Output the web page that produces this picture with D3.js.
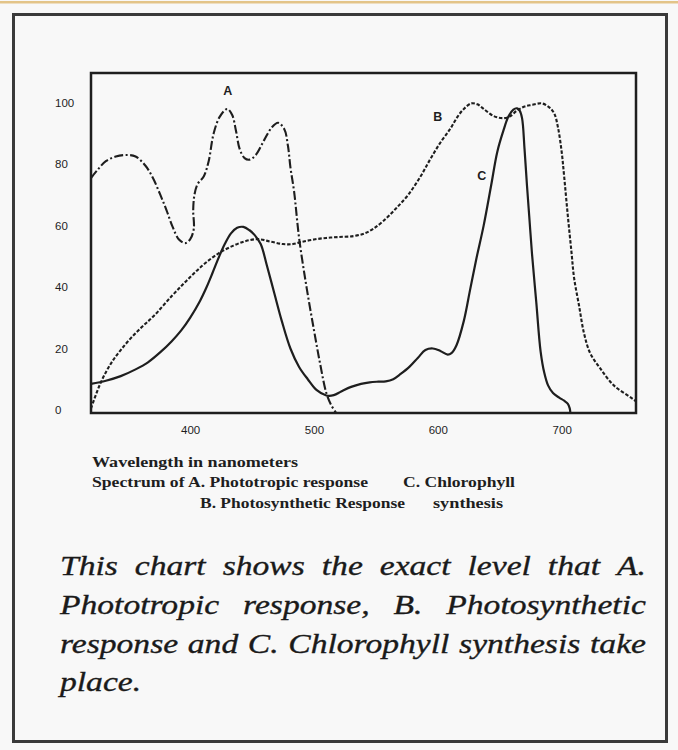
<!DOCTYPE html>
<html>
<head>
<meta charset="utf-8">
<script src="https://cdn.jsdelivr.net/npm/d3@7"></script>
<style>
  html, body { margin: 0; padding: 0; background: #f8f8f8; }
  svg { display: block; }
</style>
</head>
<body>
<script>
// ---- Data ----
const wavelengthA = [320, 325, 332, 340, 348, 356, 364, 370, 376, 381, 386, 391, 396, 400, 403, 402.5, 403.5, 406, 411, 415, 419, 424, 430, 434, 437, 440, 444, 448, 453, 460, 466, 471, 476, 479, 481, 484, 488, 494, 500, 505, 510, 514, 518];
const responseA   = [76.5, 79, 82, 83.5, 84, 83.5, 80.5, 76.5, 71, 66, 60.5, 56.5, 55.3, 56.5, 60, 66, 71, 74.5, 77, 82, 91, 96.5, 99, 97, 92, 86, 83, 82.5, 84, 89, 93, 94.5, 92.5, 87, 80, 72, 57, 41, 27, 16, 6.5, 2.5, 0];

const wavelengthB = [320, 324, 328, 333, 338, 344, 352, 361, 370, 385, 397, 410, 423, 435, 445, 455, 465, 475, 483, 490, 500, 510, 520, 532, 541, 548, 556, 566, 576, 586, 594, 602, 610, 616, 621, 627, 632, 637, 645, 652, 658, 664, 670, 676, 684, 690, 694, 697, 700, 702, 705, 708, 710, 714, 718, 723, 731, 742, 756, 760];
const responseB   = [1.5, 6, 10, 14, 17.3, 20.5, 24.3, 28, 31.3, 38, 43, 48, 52, 54.5, 56, 56.6, 55.8, 55, 55, 55.7, 56.5, 57, 57.3, 57.6, 58.5, 60, 62.5, 66.5, 71, 77, 82.7, 88, 92.5, 96.5, 99, 100.8, 100.5, 99, 96.7, 96, 96.5, 98.5, 99.8, 100.3, 100.8, 99.5, 97.5, 93, 85, 77, 64, 52, 44, 35, 26, 19.5, 14.6, 9, 5, 3.8];

const wavelengthC = [320, 332, 344, 356, 366, 376, 385, 393, 400, 408, 413, 418, 423, 428, 433, 438, 443, 448, 452, 457, 462, 468, 474, 481, 488, 495, 502, 510, 516, 522, 530, 538, 545, 552, 558, 564, 570, 577, 584, 590, 596, 602, 608, 611, 615, 621, 626, 631, 637, 643, 648, 653, 657, 661, 664, 666, 668, 670, 672, 674, 676, 679.5, 683, 686, 689, 693, 698, 702, 705, 706.5, 707];
const responseC   = [9.5, 10.5, 12, 14.2, 16.5, 19.8, 23.3, 27, 31, 36.5, 40.7, 45.5, 50.5, 55, 58.5, 60.3, 60.6, 59.5, 58, 55, 48, 39, 30, 21, 15, 11, 7.5, 5.7, 5.8, 7, 8.5, 9.5, 10, 10.2, 10.3, 11, 12.7, 15, 18, 20.5, 21, 20.2, 19, 19.5, 22, 30, 40, 50, 61, 74, 85, 92, 96.5, 98.8, 99.2, 98.5, 96, 86, 74, 63, 52, 36, 20, 13, 9, 6.5, 5, 4, 3, 1.5, 0];

const xTicks = [400, 500, 600, 700];
const yTicks = [0, 20, 40, 60, 80, 100];

const curveLabels = [
  { text: "A", wl: 430.5, v: 104.5 },
  { text: "B", wl: 600, v: 96 },
  { text: "C", wl: 635.5, v: 77 }
];

const xLabelLines = [
  { text: "Wavelength in nanometers", x: 92, y: 467, w: 206 },
  { text: "Spectrum of  A. Phototropic response", x: 92, y: 487, w: 276 },
  { text: "C. Chlorophyll", x: 403, y: 487, w: 112 },
  { text: "B. Photosynthetic Response", x: 200, y: 508, w: 205 },
  { text: "synthesis", x: 433, y: 508, w: 70 }
];

const captionLines = [
  { text: "This chart shows the exact level that A.", justify: true },
  { text: "Phototropic response, B. Photosynthetic", justify: true },
  { text: "response and C. Chlorophyll synthesis take", justify: true },
  { text: "place.", justify: false }
];

// ---- Layout ----
const W = 678, H = 750;
const plot = { left: 91, right: 636, top: 73, bottom: 413 };

const svg = d3.select("body").append("svg")
  .attr("width", W).attr("height", H);

svg.append("rect").attr("x", 0).attr("y", 0).attr("width", W).attr("height", H).attr("fill", "#f8f8f8");
svg.append("rect").attr("x", 0).attr("y", 1).attr("width", W).attr("height", 2.5).attr("fill", "#e3c488");

svg.append("rect")
  .attr("x", 13.5).attr("y", 14.5).attr("width", 653).attr("height", 727)
  .attr("fill", "none").attr("stroke", "#3a3a3a").attr("stroke-width", 3);

const x = d3.scaleLinear().domain([320, 760]).range([plot.left, plot.right]);
const y = d3.scaleLinear().domain([0, 110.7]).range([plot.bottom, plot.top]);

const ink = "#1e1e1e";
const tickFont = "Liberation Sans, Arial, sans-serif";

const gx = svg.append("g").attr("transform", `translate(0,${plot.bottom})`)
  .call(d3.axisBottom(x).tickValues(xTicks).tickSize(0).tickPadding(13).tickFormat(d3.format("d")));
gx.select(".domain").remove();
gx.selectAll("text").attr("font-family", tickFont).attr("font-size", 11.5).attr("fill", ink);

const gy = svg.append("g").attr("transform", `translate(${plot.left},0)`)
  .call(d3.axisLeft(y).tickValues(yTicks).tickSize(0).tickFormat(d3.format("d")));
gy.select(".domain").remove();
gy.selectAll("text")
  .attr("text-anchor", "start")
  .attr("x", 55 - plot.left)
  .attr("dy", "0.05em")
  .attr("font-family", tickFont).attr("font-size", 11.5).attr("fill", ink);

svg.append("rect")
  .attr("x", plot.left).attr("y", plot.top)
  .attr("width", plot.right - plot.left).attr("height", plot.bottom - plot.top)
  .attr("fill", "none").attr("stroke", ink).attr("stroke-width", 2.5);

const line = d3.line()
  .x(d => x(d[0])).y(d => y(d[1]))
  .curve(d3.curveCatmullRom.alpha(0.5));

const series = [
  { wl: wavelengthA, v: responseA, dash: "9,2.5,2,2.5", width: 2.1 },
  { wl: wavelengthB, v: responseB, dash: "3.5,1.8", width: 2.1 },
  { wl: wavelengthC, v: responseC, dash: null, width: 2.2 }
];

series.forEach(s => {
  svg.append("path")
    .datum(s.wl.map((w, i) => [w, s.v[i]]))
    .attr("d", line)
    .attr("fill", "none")
    .attr("stroke", ink)
    .attr("stroke-width", s.width)
    .attr("stroke-linejoin", "round")
    .attr("stroke-dasharray", s.dash);
});

svg.selectAll(".clab").data(curveLabels).enter().append("text")
  .attr("x", d => x(d.wl)).attr("y", d => y(d.v))
  .attr("text-anchor", "middle").attr("dominant-baseline", "middle")
  .attr("font-family", tickFont)
  .attr("font-size", 12.5).attr("font-weight", "bold").attr("fill", ink)
  .text(d => d.text);

svg.selectAll(".xl").data(xLabelLines).enter().append("text")
  .attr("x", d => d.x).attr("y", d => d.y)
  .attr("textLength", d => d.w).attr("lengthAdjust", "spacingAndGlyphs")
  .attr("font-family", "Liberation Serif, Times New Roman, serif")
  .attr("font-size", 14).attr("font-weight", "bold").attr("fill", ink)
  .text(d => d.text);

const capLeft = 60, capRight = 646, capTop = 575, capStep = 38.8, stretch = 1.2;
captionLines.forEach((ln, i) => {
  const words = ln.text.split(" ");
  const by = capTop + i * capStep;
  const g = svg.append("g");
  const nodes = words.map(wd => g.append("text")
    .attr("font-family", "Liberation Serif, Times New Roman, serif")
    .attr("font-style", "italic")
    .attr("font-size", 28)
    .attr("fill", "#1a1a1a")
    .attr("stroke", "#1a1a1a").attr("stroke-width", 0.35)
    .text(wd));
  const widths = nodes.map(n => n.node().getComputedTextLength() * stretch);
  const total = d3.sum(widths);
  const space = ln.justify && words.length > 1 ? (capRight - capLeft - total) / (words.length - 1) : 8;
  let cx = capLeft;
  nodes.forEach((n, k) => {
    n.attr("transform", `translate(${cx},${by}) scale(${stretch},1)`);
    cx += widths[k] + space;
  });
});
</script>
</body>
</html>
